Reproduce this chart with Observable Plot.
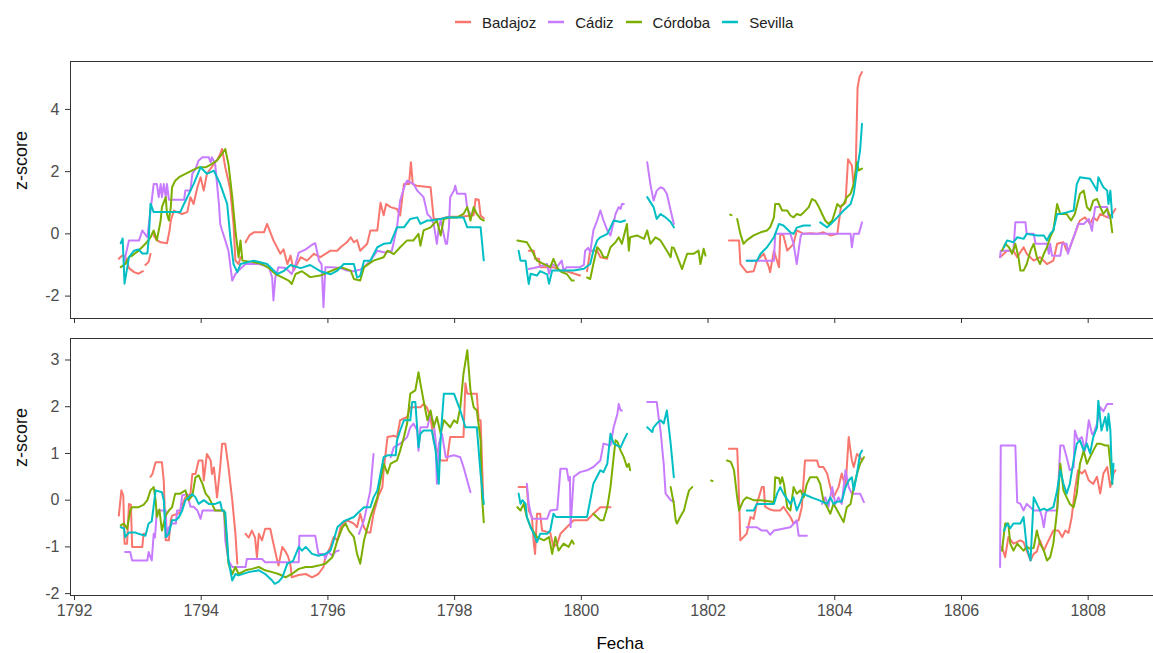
<!DOCTYPE html>
<html>
<head>
<meta charset="utf-8">
<script src="https://cdn.jsdelivr.net/npm/d3@7"></script>
<script src="https://cdn.jsdelivr.net/npm/@observablehq/plot@0.6"></script>
<style>
  html, body { margin: 0; padding: 0; background: #fff; overflow: hidden; }
  body { font-family: "Liberation Sans", Arial, sans-serif; }
  #root { position: relative; width: 1153px; height: 653px; }
  #legend { position: absolute; left: 455px; top: 13px; display: flex; align-items: center; height: 18px; font-size: 15px; color: #222; white-space: nowrap; }
  #legend .key { display: flex; align-items: center; margin-right: 12px; }
  #legend svg { display: block; margin-right: 11px; }
  .panel { position: absolute; left: 0; }
  #xtitle { position: absolute; left: 620px; top: 634px; transform: translateX(-50%); font-size: 17px; color: #000; }
</style>
</head>
<body>
<div id="root">
  <div id="legend"></div>
  <div id="top" class="panel" style="top:50px"></div>
  <div id="bottom" class="panel" style="top:330px"></div>
  <div id="xtitle">Fecha</div>
</div>
<script>
// Provinces and their line colours
const cities = ["Badajoz", "Cádiz", "Córdoba", "Sevilla"];
const palette = ["#F8766D", "#C77CFF", "#7CAE00", "#00BFC4"];

// Year ticks shared by both panels
const yearTicks = [1792, 1794, 1796, 1798, 1800, 1802, 1804, 1806, 1808];
const topTicks = [-2, 0, 2, 4];
const bottomTicks = [-2, -1, 0, 1, 2, 3];

// Upper panel series: [year, z-score]; null marks a gap in the record
const badajozTop = [
  [1792.70,-0.8],[1792.75,-0.7],[1792.80,-0.72],[1792.86,-1.1],[1792.94,-1.23],[1793.01,-1.28],[1793.08,-1.2],null,
  [1793.12,-1.0],[1793.17,-0.9],[1793.20,-0.65],null,
  [1793.25,-0.05],[1793.30,-0.2],[1793.36,-0.27],[1793.46,-0.3],[1793.50,0.1],[1793.52,0.43],[1793.57,0.75],[1793.62,0.7],[1793.70,0.64],[1793.78,0.7],[1793.83,1.18],[1793.88,0.96],[1793.94,1.5],[1793.99,1.82],[1794.04,1.39],[1794.09,1.93],[1794.15,2.1],[1794.20,2.25],[1794.26,2.4],[1794.30,2.57],[1794.33,2.73],[1794.38,2.14],[1794.43,1.7],[1794.46,1.39],[1794.51,0.32],[1794.54,-0.86],[1794.59,-0.97],[1794.62,-0.75],null,
  [1794.70,-0.27],[1794.76,-0.05],[1794.83,0.05],[1794.99,0.05],[1795.04,0.32],[1795.14,-0.21],[1795.25,-0.64],[1795.30,-0.5],[1795.36,-0.97],[1795.41,-0.7],[1795.46,-1.18],[1795.57,-0.75],[1795.67,-0.86],[1795.78,-0.64],[1795.88,-0.75],[1796.04,-0.54],[1796.15,-0.54],[1796.20,-0.43],[1796.30,-0.27],[1796.36,-0.11],[1796.41,-0.27],[1796.46,-0.2],[1796.51,-0.54],[1796.62,-0.32],[1796.67,0.11],[1796.78,0.11],[1796.83,1.0],[1796.88,0.6],[1796.92,0.96],[1796.99,0.86],[1797.09,0.8],[1797.14,0.59],[1797.20,1.6],[1797.28,1.6],[1797.31,2.3],[1797.34,1.6],[1797.40,1.55],[1797.62,1.5],[1797.67,0.48],[1797.78,0.48],[1797.90,0.55],[1798.10,0.55],[1798.30,0.6],[1798.33,1.12],[1798.38,1.1],[1798.41,0.59],[1798.46,0.5],null,
  [1799.17,-0.54],[1799.25,-0.54],[1799.27,-0.8],[1799.33,-0.8],[1799.35,-1.07],[1799.56,-1.07],[1799.67,-1.18],[1799.77,-1.2],[1799.98,-1.34],null,
  [1800.09,-1.2],[1800.14,-0.54],[1800.25,-0.54],[1800.30,-0.75],[1800.41,-0.8],null,
  [1802.33,-0.21],[1802.49,-0.21],[1802.51,-0.97],[1802.61,-1.23],[1802.72,-1.2],[1802.77,-0.86],[1802.88,-0.64],[1802.96,-1.07],[1802.98,-1.23],[1803.04,-0.54],[1803.12,-1.07],[1803.14,0],[1803.19,-0.05],[1803.25,-0.54],[1803.35,-0.32],[1803.40,0.11],[1803.51,0],[1803.61,0.02],[1803.72,0],[1803.82,0.05],[1803.93,-0.05],[1804.04,0],[1804.10,0.9],[1804.17,1.0],[1804.21,2.4],[1804.27,2.2],[1804.30,1.5],[1804.33,2.0],[1804.36,4.7],[1804.39,5.04],[1804.43,5.2],null,
  [1806.61,-0.75],[1806.72,-0.54],[1806.82,-0.54],[1806.88,-0.75],[1806.98,-0.43],[1807.03,-0.64],[1807.14,-0.86],[1807.24,-0.75],[1807.35,-0.97],[1807.45,-0.86],[1807.51,-0.32],[1807.61,-0.27],[1807.66,-0.54],[1807.71,-0.45],[1807.79,0],[1807.87,0.43],[1807.95,0.53],[1808.03,0.32],[1808.08,0.53],[1808.14,0.43],[1808.19,0.64],[1808.30,0.53],[1808.38,0.64],[1808.43,0.8]
];

const cadizTop = [
  [1792.78,-1.07],[1792.80,-0.75],[1792.86,-0.21],[1793.02,-0.21],[1793.07,0.11],[1793.15,-0.11],[1793.20,0.75],[1793.25,1.6],[1793.30,1.6],[1793.33,1.18],[1793.36,1.6],[1793.38,1.18],[1793.41,1.6],[1793.44,1.18],[1793.46,1.6],[1793.49,1.1],[1793.73,1.1],[1793.75,1.39],[1793.83,1.39],[1793.86,1.93],[1793.91,2.09],[1793.96,2.36],[1794.02,2.46],[1794.12,2.46],[1794.15,2.3],[1794.17,2.46],[1794.22,2.25],[1794.25,1.6],[1794.28,0.96],[1794.30,0.32],[1794.33,0.11],[1794.38,-0.21],[1794.43,-0.54],[1794.49,-1.5],[1794.54,-1.29],[1794.59,-1.18],[1794.70,-0.97],[1794.91,-0.97],[1795.07,-1.07],[1795.12,-1.4],[1795.14,-2.14],[1795.17,-1.4],[1795.22,-1.07],[1795.33,-1.1],[1795.43,-1.29],[1795.49,-0.97],[1795.54,-0.6],[1795.65,-0.5],[1795.75,-0.35],[1795.80,-0.3],[1795.86,-0.86],[1795.90,-0.97],[1795.93,-2.36],[1795.96,-1.07],[1796.07,-1.07],[1796.20,-1.1],[1796.30,-1.18],[1796.41,-1.2],[1796.51,-1.15],[1796.57,-1.07],[1796.67,-0.86],[1796.78,-0.54],[1796.90,-0.6],[1797.01,-0.54],[1797.09,0.21],[1797.14,1.07],[1797.22,1.6],[1797.25,1.71],[1797.35,1.6],[1797.41,1.39],[1797.51,1.18],[1797.57,0.64],[1797.62,0.53],[1797.67,0.32],[1797.72,-0.32],[1797.75,0.21],[1797.78,0.43],[1797.86,-0.32],[1797.88,-0.32],[1797.91,0.21],[1797.93,1.18],[1797.99,1.39],[1798.01,1.55],[1798.04,1.29],[1798.17,1.29],[1798.20,0.8],[1798.25,0.64],null,
  [1799.17,-1.13],[1799.25,-1.1],[1799.35,-1.05],[1799.46,-0.97],[1799.49,-1.28],[1799.54,-0.97],[1799.62,-1.05],[1799.69,-0.86],[1799.72,-1.18],[1799.77,-1.07],[1799.98,-1.07],[1800.04,-1.0],[1800.06,-0.54],[1800.11,-0.45],[1800.14,-0.6],[1800.19,0.11],[1800.25,0.43],[1800.30,0.75],[1800.35,0.43],[1800.41,0.11],[1800.46,-0.05],[1800.54,0.64],[1800.59,0.86],[1800.62,0.8],[1800.64,0.96],[1800.67,0.96],null,
  [1801.04,2.3],[1801.09,1.6],[1801.14,1.07],[1801.19,1.39],[1801.25,1.5],[1801.30,1.45],[1801.35,1.29],[1801.41,0.75],[1801.46,0.32],null,
  [1802.61,-0.86],[1803.04,-0.86],[1803.06,0],[1803.30,0],[1803.35,-0.32],[1803.40,-0.97],[1803.46,-0.1],[1803.48,0],[1804.25,0],[1804.27,-0.43],[1804.30,0],[1804.38,0],[1804.43,0.37],null,
  [1806.61,-0.75],[1806.62,-0.54],[1806.82,-0.54],[1806.85,0.37],[1807.01,0.37],[1807.03,0],[1807.14,0],[1807.17,-0.32],[1807.35,-0.32],[1807.38,-0.64],[1807.40,-0.32],[1807.43,-0.7],[1807.56,-0.7],[1807.59,-0.32],[1807.66,-0.32],[1807.68,-0.64],[1807.73,-0.32],[1807.79,0],[1807.84,0.32],[1807.93,0.32],[1808.01,0.48],[1808.06,0.1],[1808.08,0.43],[1808.11,0.86],[1808.30,0.86],[1808.32,0.53],[1808.35,0.5]
];

const cordobaTop = [
  [1792.73,-1.07],[1792.80,-0.97],[1792.86,-0.75],[1792.91,-0.7],[1793.01,-0.54],[1793.12,-0.32],[1793.20,-0.11],[1793.25,0.11],[1793.30,-0.21],[1793.36,0.43],[1793.38,0.86],[1793.44,1.18],[1793.46,0.64],[1793.49,0.43],[1793.52,0.86],[1793.54,1.5],[1793.59,1.71],[1793.65,1.82],[1793.75,1.93],[1793.86,2.04],[1793.96,2.14],[1794.07,2.14],[1794.17,2.25],[1794.25,2.36],[1794.33,2.57],[1794.38,2.73],[1794.43,2.25],[1794.49,1.18],[1794.54,0.11],[1794.59,-0.75],[1794.62,-0.21],[1794.65,-0.86],[1794.80,-0.9],[1794.96,-0.97],[1795.07,-1.1],[1795.17,-1.29],[1795.28,-1.4],[1795.38,-1.5],[1795.43,-1.61],[1795.49,-1.29],[1795.59,-1.2],[1795.72,-1.39],[1795.88,-1.34],[1796.04,-1.2],[1796.20,-1.07],[1796.36,-1.18],[1796.41,-1.45],[1796.51,-1.5],[1796.57,-1.07],[1796.72,-0.86],[1796.88,-0.75],[1796.94,-0.54],[1797.04,-0.65],[1797.14,-0.43],[1797.25,-0.21],[1797.35,-0.21],[1797.43,0],[1797.46,-0.38],[1797.51,0.11],[1797.62,0.21],[1797.72,0.43],[1797.78,-0.05],[1797.83,0.48],[1797.93,0.53],[1798.04,0.53],[1798.14,0.64],[1798.20,0.86],[1798.25,0.43],[1798.30,0.86],[1798.35,0.64],[1798.41,0.48],[1798.46,0.43],null,
  [1798.99,-0.21],[1799.14,-0.27],[1799.22,-0.54],[1799.30,-0.86],[1799.41,-0.97],[1799.51,-1.07],[1799.56,-0.8],[1799.62,-1.1],[1799.69,-1.23],[1799.77,-1.29],[1799.85,-1.5],[1799.88,-1.5],null,
  [1800.09,-1.4],[1800.14,-1.45],[1800.19,-0.97],[1800.25,-0.43],[1800.30,-0.54],[1800.35,-0.75],[1800.41,-0.75],[1800.46,-0.43],[1800.54,-0.27],[1800.59,-0.11],[1800.64,-0.32],[1800.72,0.32],[1800.75,-0.54],[1800.77,-0.11],[1800.88,-0.05],[1800.99,-0.16],[1801.04,0.11],[1801.09,-0.32],[1801.17,-0.11],[1801.25,-0.21],[1801.35,-0.54],[1801.41,-0.75],[1801.43,-0.43],null,
  [1801.46,-0.45],[1801.56,-0.97],[1801.59,-1.13],[1801.67,-0.64],[1801.77,-0.64],[1801.85,-0.54],[1801.88,-0.97],[1801.93,-0.48],[1801.96,-0.7],null,
  [1802.35,0.62],[1802.37,0.6],null,
  [1802.46,0.48],[1802.51,0],[1802.56,-0.32],[1802.61,-0.21],[1802.72,-0.05],[1802.83,0.05],[1802.93,0.11],[1802.98,0.21],[1803.04,0.53],[1803.06,0.96],[1803.12,0.96],[1803.17,0.75],[1803.25,0.75],[1803.30,0.59],[1803.35,0.53],[1803.40,0.64],[1803.46,0.6],[1803.51,0.69],[1803.59,0.86],[1803.64,1.12],[1803.69,1.07],[1803.75,0.86],[1803.80,0.64],[1803.85,0.43],[1803.90,0.32],[1803.96,0.43],[1804.01,0.75],[1804.04,0.96],[1804.09,0.86],[1804.14,0.96],[1804.19,1.18],[1804.25,1.29],[1804.30,1.6],[1804.35,2.3],[1804.38,2.04],[1804.43,2.1],null,
  [1806.64,-0.54],[1806.69,-0.32],[1806.75,-0.43],[1806.80,-0.64],[1806.85,-0.32],[1806.90,-0.75],[1806.93,-1.18],[1806.98,-1.18],[1807.03,-0.97],[1807.09,-0.54],[1807.14,-0.32],[1807.19,-0.75],[1807.24,-0.97],[1807.30,-0.64],[1807.35,-0.43],[1807.40,-0.11],[1807.45,0.11],[1807.51,0.96],[1807.56,0.64],[1807.66,0.64],[1807.73,0.43],[1807.79,0.64],[1807.87,1.29],[1807.93,1.39],[1807.98,0.86],[1808.03,0.75],[1808.08,1.07],[1808.14,1.12],[1808.19,0.86],[1808.24,0.64],[1808.30,0.8],[1808.35,0.53],[1808.38,0.05]
];

const sevillaTop = [
  [1792.73,-0.3],[1792.76,-0.15],[1792.79,-1.6],[1792.86,-0.75],[1792.94,-0.54],[1793.01,-0.5],[1793.07,-0.63],[1793.15,-0.63],[1793.17,-0.2],[1793.20,0.97],[1793.25,0.70],[1793.67,0.70],[1793.73,0.97],[1793.88,1.6],[1793.99,2.14],[1794.09,1.93],[1794.20,2.03],[1794.25,1.82],[1794.30,1.6],[1794.41,0.96],[1794.46,-0.11],[1794.51,-0.97],[1794.57,-1.23],[1794.62,-0.97],[1794.83,-0.86],[1795.04,-0.97],[1795.20,-1.29],[1795.30,-1.2],[1795.41,-1.0],[1795.57,-1.1],[1795.72,-1.0],[1795.88,-1.2],[1796.04,-1.3],[1796.15,-1.18],[1796.25,-0.97],[1796.41,-0.97],[1796.46,-1.4],[1796.51,-1.35],[1796.57,-0.86],[1796.67,-0.86],[1796.78,-0.43],[1796.88,-0.32],[1796.99,-0.29],[1797.09,0.21],[1797.20,0.21],[1797.30,0.48],[1797.41,0.53],[1797.46,0.32],[1797.57,0.43],[1797.62,0.43],[1797.78,0.48],[1797.88,0.53],[1798.14,0.53],[1798.20,0.21],[1798.41,0.21],[1798.46,-0.85],null,
  [1799.01,-0.54],[1799.04,-0.86],[1799.12,-0.86],[1799.14,-1.18],[1799.17,-1.61],[1799.20,-1.28],[1799.30,-1.34],[1799.35,-1.2],[1799.46,-1.3],[1799.49,-1.6],[1799.54,-1.18],[1799.67,-1.18],[1799.88,-1.18],[1800.04,-1.12],[1800.14,-0.97],[1800.19,-0.54],[1800.25,-0.21],[1800.30,-0.11],[1800.41,0],[1800.46,0.21],[1800.51,0.43],[1800.62,0.38],[1800.69,0.43],null,
  [1801.04,1.18],[1801.14,0.86],[1801.19,0.48],[1801.25,0.64],[1801.33,0.53],[1801.41,0.38],[1801.46,0.21],null,
  [1802.61,-0.86],[1802.77,-0.86],[1802.83,-0.64],[1802.93,-0.43],[1803.04,-0.11],[1803.12,0.32],[1803.19,0.27],[1803.30,0.05],[1803.35,0],[1803.40,0.2],[1803.51,0.27],[1803.61,0.27],null,
  [1803.77,0.37],[1803.88,0.21],[1803.93,0.3],[1804.04,0.53],[1804.14,0.75],[1804.25,0.96],[1804.30,1.29],[1804.35,2.04],[1804.40,2.68],[1804.43,3.54],null,
  [1806.67,-0.43],[1806.72,-0.21],[1806.82,-0.27],[1806.88,-0.11],[1806.98,-0.16],[1807.03,0],[1807.19,-0.05],[1807.30,-0.05],[1807.35,-0.21],[1807.40,0],[1807.45,0.11],[1807.51,0.64],[1807.56,0.64],[1807.66,0.69],[1807.77,0.75],[1807.82,1.6],[1807.87,1.82],[1808.03,1.77],[1808.08,1.6],[1808.14,1.39],[1808.16,1.82],[1808.24,1.5],[1808.30,1.39],[1808.32,0.96],[1808.35,1.39],[1808.38,0.53]
];

// Lower panel series: [year, z-score]; null marks a gap in the record
const badajozBottom = [
  [1792.70,-0.33],[1792.74,0.21],[1792.77,0.1],[1792.79,-0.93],[1792.83,-0.93],[1792.86,-0.08],[1792.89,-0.1],[1792.91,-1.0],[1793.07,-1.0],[1793.09,-0.72],[1793.12,-0.72],null,
  [1793.20,0.5],[1793.23,0.56],[1793.28,0.81],[1793.38,0.81],[1793.41,0.4],[1793.44,-0.86],[1793.49,-0.86],[1793.52,-0.43],[1793.54,-0.33],[1793.65,-0.28],[1793.75,0.06],[1793.83,0.13],[1793.86,0.56],[1793.91,0.56],[1793.96,0.85],[1794.02,0.85],[1794.04,0.42],[1794.09,0.99],[1794.15,0.85],[1794.17,0.56],[1794.20,0.7],[1794.25,0.06],[1794.30,0.71],[1794.33,1.21],[1794.38,1.21],[1794.43,0.71],[1794.49,0],[1794.54,-0.72],[1794.57,-1.36],null,
  [1794.70,-0.72],[1794.75,-0.8],[1794.80,-0.65],[1794.85,-0.8],[1794.88,-1.22],[1794.91,-0.72],[1794.96,-0.86],[1795.01,-0.61],[1795.09,-0.61],[1795.14,-0.93],[1795.20,-1.29],[1795.22,-1.4],[1795.28,-1.0],[1795.33,-1.1],[1795.37,-1.2],[1795.41,-1.4],[1795.43,-1.65],[1795.54,-1.6],[1795.65,-1.58],[1795.75,-1.65],[1795.85,-1.58],[1795.93,-1.43],[1795.96,-1.22],[1796.04,-1.0],[1796.09,-0.79],[1796.15,-0.86],[1796.20,-0.58],[1796.30,-0.43],[1796.41,-0.5],[1796.46,-0.58],[1796.51,-0.29],[1796.57,-0.58],[1796.62,-0.69],[1796.67,-0.69],[1796.72,-0.29],[1796.80,0.1],[1796.86,0.28],[1796.88,0.64],[1796.94,1.35],[1797.04,1.38],[1797.09,1.35],[1797.14,1.71],[1797.25,1.78],[1797.30,1.99],[1797.46,1.99],[1797.51,2.06],[1797.56,1.99],[1797.62,1.78],[1797.67,1.28],[1797.78,0.85],[1797.88,0.85],[1797.93,1.35],[1798.14,1.35],[1798.17,2.5],[1798.20,2.28],[1798.35,2.28],[1798.38,1.71],[1798.41,1.71],[1798.45,0.1],null,
  [1799.01,0.28],[1799.14,0.28],[1799.17,-0.22],[1799.22,-0.36],[1799.25,-0.93],[1799.27,-1.15],[1799.30,-0.29],[1799.35,-0.29],[1799.38,-0.65],[1799.51,-0.7],[1799.56,-1.0],[1799.62,-0.93],[1799.67,-0.72],[1799.77,-0.58],[1799.88,-0.43],[1800.09,-0.43],[1800.19,-0.29],[1800.30,-0.15],[1800.46,-0.15],null,
  [1802.33,1.1],[1802.46,1.1],[1802.48,0.42],[1802.51,-0.86],[1802.61,-0.72],[1802.67,-0.36],[1802.72,-0.4],[1802.77,-0.08],[1802.85,0.28],[1802.88,0.28],[1802.90,-0.14],[1802.98,-0.2],[1803.04,-0.22],[1803.14,-0.22],[1803.19,-0.14],[1803.30,-0.36],[1803.35,-0.5],[1803.43,-0.43],[1803.48,-0.15],[1803.53,0.85],[1803.72,0.85],[1803.75,0.71],[1803.82,0.71],[1803.88,0.57],[1803.93,0.28],[1803.98,0.06],[1804.06,0.28],[1804.11,0.57],[1804.17,0.28],[1804.22,1.35],[1804.27,0.85],[1804.30,0.71],[1804.35,0.99],[1804.40,0.92],[1804.43,0.85],null,
  [1806.64,-1.0],[1806.69,-1.22],[1806.74,-0.79],[1806.82,-0.93],[1806.93,-0.86],[1806.98,-0.9],[1807.03,-1.08],[1807.09,-1.29],[1807.14,-1.15],[1807.19,-1.1],[1807.24,-0.86],[1807.30,-1.08],[1807.35,-0.93],[1807.40,-0.79],[1807.45,-0.65],[1807.53,-0.65],[1807.59,-0.79],[1807.64,-0.65],[1807.69,-0.7],[1807.74,-0.36],[1807.79,0.21],[1807.84,0.64],[1807.90,0.57],[1807.95,0.64],[1808.01,0.42],[1808.08,0.35],[1808.14,0.5],[1808.19,0.14],[1808.24,0.57],[1808.30,0.71],[1808.35,0.28],[1808.40,0.57],[1808.43,0.64]
];

const cadizBottom = [
  [1792.80,-1.11],[1792.88,-1.11],[1792.91,-1.29],[1793.15,-1.29],[1793.17,-1.11],[1793.22,-1.29],[1793.25,-0.72],[1793.27,-0.8],[1793.30,-0.22],[1793.44,-0.22],[1793.46,-0.79],[1793.49,-0.58],[1793.54,-0.5],[1793.60,-0.5],[1793.62,-0.22],[1793.67,-0.22],[1793.70,0.1],[1793.78,0.13],[1793.83,-0.14],[1793.88,-0.14],[1793.94,-0.22],[1793.99,-0.4],[1794.02,-0.22],[1794.36,-0.22],[1794.38,-0.86],[1794.43,-1.29],[1794.49,-1.43],[1794.70,-1.43],[1794.72,-1.26],[1794.96,-1.26],[1795.01,-1.33],[1795.54,-1.33],[1795.55,-0.76],[1795.80,-0.76],[1795.85,-1.15],[1795.93,-1.15],[1795.96,-1.25],[1796.00,-1.1],[1796.07,-1.19],[1796.12,-1.1],[1796.17,-1.08],null,
  [1796.49,-0.72],[1796.57,-0.43],[1796.67,0.21],[1796.72,0.99],null,
  [1796.99,0.92],[1797.04,1.13],[1797.14,1.21],[1797.20,1.28],[1797.25,1.35],[1797.30,1.56],[1797.35,1.64],[1797.41,1.49],[1797.43,1.06],[1797.46,1.56],[1797.57,1.56],[1797.62,1.85],[1797.67,1.64],[1797.70,1.28],[1797.72,0.35],[1797.75,1.2],[1797.80,1.42],[1797.86,0.92],[1797.99,0.96],[1798.09,0.92],[1798.14,0.71],[1798.25,0.17],null,
  [1799.14,0.35],[1799.17,-0.08],[1799.22,-0.4],[1799.46,-0.4],[1799.51,-0.22],[1799.62,-0.2],[1799.67,0.67],[1799.77,0.67],[1799.80,0.42],[1799.82,0.5],[1799.83,-0.58],[1799.88,0.5],[1799.98,0.6],[1800.09,0.64],[1800.19,0.71],[1800.30,0.85],[1800.35,1.21],[1800.46,1.17],[1800.51,1.56],[1800.57,1.85],[1800.59,2.06],[1800.62,1.92],[1800.64,1.92],null,
  [1801.04,2.1],[1801.19,2.1],[1801.22,1.78],[1801.25,1.49],[1801.30,0.78],[1801.33,0.14],[1801.41,0],[1801.46,-0.03],null,
  [1802.61,-0.58],[1802.77,-0.58],[1802.85,-0.65],[1802.93,-0.65],[1802.98,-0.74],[1803.04,-0.65],[1803.30,-0.58],[1803.40,-0.43],[1803.43,-0.76],[1803.56,-0.76],null,
  [1803.80,-0.08],[1803.85,0.06],[1803.90,-0.14],[1803.96,0.28],[1804.01,-0.08],[1804.06,0.06],[1804.11,-0.08],[1804.17,0.64],[1804.22,0.28],[1804.27,0.14],[1804.40,0.14],[1804.46,-0.04],null,
  [1806.61,-1.43],[1806.62,1.17],[1806.85,1.17],[1806.88,-0.04],[1806.93,-0.08],[1806.98,-0.22],[1807.03,-0.08],[1807.14,-0.22],[1807.24,-0.22],[1807.27,-0.36],[1807.30,-0.58],[1807.33,-0.29],[1807.35,-0.22],[1807.51,-0.22],[1807.56,1.17],[1807.61,1.17],[1807.66,0.92],[1807.71,0.64],[1807.77,0.7],[1807.79,1.49],[1807.84,1.28],[1807.90,1.35],[1807.95,1.06],[1808.01,1.71],[1808.06,1.42],[1808.08,1.4],[1808.14,1.64],[1808.19,1.99],[1808.24,1.9],[1808.30,2.06],[1808.38,2.06]
];

const cordobaBottom = [
  [1792.73,-0.54],[1792.78,-0.5],[1792.83,-0.61],[1792.88,-0.22],[1792.91,-0.15],[1793.01,-0.15],[1793.09,-0.1],[1793.15,0],[1793.20,0.21],[1793.25,0.28],[1793.28,0],[1793.30,-0.36],[1793.34,-0.2],[1793.38,-0.65],[1793.44,-0.33],[1793.49,-0.22],[1793.54,-0.15],[1793.59,0.14],[1793.67,0.14],[1793.75,0.21],[1793.80,0],[1793.86,0.1],[1793.91,0.49],[1793.96,0.53],[1794.02,0.35],[1794.07,0.14],[1794.12,0.06],[1794.17,-0.08],[1794.22,-0.22],[1794.36,-0.22],[1794.40,-0.8],[1794.43,-1.36],[1794.49,-1.58],[1794.54,-1.43],[1794.59,-1.58],[1794.70,-1.5],[1794.80,-1.47],[1794.91,-1.43],[1795.01,-1.5],[1795.12,-1.54],[1795.22,-1.58],[1795.33,-1.65],[1795.43,-1.58],[1795.54,-1.47],[1795.65,-1.43],[1795.75,-1.43],[1795.85,-1.4],[1795.96,-1.36],[1796.07,-1.22],[1796.15,-0.86],[1796.23,-0.58],[1796.28,-0.5],[1796.33,-0.65],[1796.41,-0.79],[1796.46,-1.15],[1796.51,-1.36],[1796.57,-0.86],[1796.67,-0.36],[1796.78,0.06],[1796.83,0.42],[1796.88,0.78],[1796.94,0.57],[1796.99,0.78],[1797.09,0.85],[1797.14,1.06],[1797.20,1.35],[1797.25,1.64],[1797.30,2.28],[1797.38,2.35],[1797.43,2.74],[1797.46,2.5],[1797.51,2.13],[1797.57,1.71],[1797.62,1.92],[1797.67,1.56],[1797.72,1.78],[1797.78,1.42],[1797.83,1.71],[1797.93,1.56],[1797.99,1.71],[1798.04,1.65],[1798.09,1.99],[1798.14,2.71],[1798.20,3.21],[1798.25,2.35],[1798.30,1.99],[1798.35,1.92],[1798.41,1.28],[1798.43,0.14],[1798.46,-0.47],null,
  [1798.99,-0.15],[1799.04,-0.22],[1799.09,-0.08],[1799.14,-0.36],[1799.20,-0.58],[1799.30,-0.79],[1799.41,-0.86],[1799.49,-0.79],[1799.54,-1.15],[1799.59,-0.79],[1799.64,-1.08],[1799.72,-0.93],[1799.80,-1.0],[1799.85,-0.86],[1799.88,-0.93],null,
  [1800.19,-0.29],[1800.30,-0.43],[1800.35,-0.43],[1800.41,-0.15],[1800.46,0.28],[1800.51,0.92],[1800.54,1.28],[1800.57,1.25],[1800.62,1.06],[1800.67,0.92],[1800.72,0.71],[1800.75,0.78],[1800.77,0.64],null,
  [1801.41,0.28],[1801.46,-0.08],[1801.49,-0.43],[1801.51,-0.5],[1801.56,-0.36],[1801.62,-0.22],[1801.67,0.06],[1801.70,0.21],[1801.75,0.28],null,
  [1802.05,0.42],[1802.07,0.41],null,
  [1802.30,0.85],[1802.36,0.82],[1802.41,0.64],[1802.46,0.06],[1802.49,-0.22],[1802.56,0],[1802.61,0.06],[1802.72,0],[1802.83,0],[1803.04,-0.04],[1803.06,0.49],[1803.12,0.47],[1803.14,0.35],[1803.17,0.49],[1803.20,0.33],[1803.25,-0.15],[1803.30,-0.22],[1803.35,0.28],[1803.40,0.14],[1803.46,0.21],[1803.51,0.06],[1803.56,0.35],[1803.61,0.49],[1803.72,0.49],[1803.77,0.35],[1803.82,0],[1803.88,-0.15],[1803.93,-0.29],[1803.98,-0.08],[1804.04,-0.22],[1804.14,-0.47],[1804.19,-0.15],[1804.25,-0.08],[1804.30,0.28],[1804.35,0.56],[1804.40,0.78],[1804.46,0.92],null,
  [1806.64,-1.08],[1806.69,-0.5],[1806.74,-0.5],[1806.77,-0.93],[1806.82,-1.08],[1806.88,-0.93],[1806.98,-1.08],[1807.03,-1.0],[1807.09,-1.04],[1807.14,-1.02],[1807.19,-0.65],[1807.24,-0.93],[1807.30,-1.08],[1807.35,-1.29],[1807.40,-1.22],[1807.45,-0.93],[1807.51,-0.22],[1807.56,0.78],[1807.61,0.21],[1807.66,0.06],[1807.71,-0.08],[1807.77,-0.15],[1807.82,0.14],[1807.87,0.78],[1807.93,1.06],[1807.98,0.78],[1808.03,0.92],[1808.08,1.06],[1808.14,1.21],[1808.19,1.21],[1808.27,1.17],[1808.32,1.17],[1808.35,0.78],[1808.38,0.35]
];

const sevillaBottom = [
  [1792.73,-0.58],[1792.78,-0.6],[1792.80,-0.79],[1792.86,-0.69],[1792.96,-0.69],[1793.01,-0.72],[1793.12,-0.76],[1793.17,-0.5],[1793.22,-0.45],[1793.28,0.21],[1793.38,0.17],[1793.41,0],[1793.44,-0.79],[1793.49,-0.72],[1793.54,-0.43],[1793.60,-0.43],[1793.65,-0.36],[1793.70,-0.22],[1793.75,0],[1793.86,0.13],[1793.91,0.06],[1793.96,-0.08],[1794.04,0],[1794.12,-0.08],[1794.22,-0.08],[1794.30,-0.04],[1794.33,-0.22],[1794.38,-0.26],[1794.41,-0.86],[1794.43,-1.29],[1794.49,-1.72],[1794.54,-1.58],[1794.59,-1.61],[1794.75,-1.54],[1794.91,-1.5],[1795.01,-1.58],[1795.12,-1.72],[1795.16,-1.79],[1795.22,-1.75],[1795.28,-1.65],[1795.36,-1.36],[1795.45,-1.3],[1795.54,-1.0],[1795.59,-1.08],[1795.65,-1.0],[1795.75,-1.15],[1795.85,-1.19],[1795.96,-1.15],[1796.04,-1.08],[1796.09,-0.86],[1796.15,-0.58],[1796.25,-0.45],[1796.41,-0.36],[1796.46,-0.29],[1796.57,-0.15],[1796.67,-0.15],[1796.72,0.06],[1796.78,0.21],[1796.83,0.56],[1796.88,0.92],[1796.94,0.96],[1797.07,0.96],[1797.09,1.28],[1797.14,1.49],[1797.20,1.71],[1797.30,1.71],[1797.33,2.1],[1797.38,2.1],[1797.43,1.13],[1797.46,1.42],[1797.51,1.49],[1797.64,1.49],[1797.70,1.06],[1797.75,0.35],[1797.78,1.35],[1797.83,2.28],[1797.99,2.28],[1798.04,2.1],[1798.09,1.92],[1798.17,1.56],[1798.35,1.56],[1798.41,0.56],[1798.46,-0.08],null,
  [1799.01,0.14],[1799.04,-0.08],[1799.07,0],[1799.12,-0.08],[1799.14,-0.36],[1799.20,-0.58],[1799.25,-0.72],[1799.30,-0.9],[1799.35,-0.72],[1799.46,-0.72],[1799.51,-0.65],[1799.56,-0.29],[1799.60,-0.36],[1799.88,-0.36],[1800.09,-0.36],[1800.19,0.35],[1800.30,0.64],[1800.35,0.6],[1800.41,0.78],[1800.46,1.42],[1800.51,1.21],[1800.62,1.13],[1800.67,1.28],[1800.72,1.42],null,
  [1801.04,1.56],[1801.12,1.46],[1801.14,1.56],[1801.19,1.64],[1801.25,1.71],[1801.30,1.64],[1801.35,1.92],[1801.41,1.21],[1801.46,0.49],null,
  [1802.61,-0.22],[1802.72,-0.22],[1802.77,-0.08],[1803.04,-0.08],[1803.09,0.14],[1803.14,0.28],[1803.19,0.14],[1803.30,-0.08],[1803.35,0.06],[1803.40,-0.22],[1803.46,-0.03],[1803.51,0.14],[1803.56,0.1],[1803.65,0.05],[1803.75,0],[1803.80,-0.03],[1803.88,-0.08],[1803.93,0.06],[1803.98,-0.08],[1804.04,-0.03],[1804.11,-0.03],[1804.17,0.28],[1804.22,0.42],[1804.27,0.49],[1804.30,0.21],[1804.35,0.56],[1804.40,0.99],[1804.43,1.06],null,
  [1806.67,-0.65],[1806.72,-0.5],[1806.77,-0.6],[1806.82,-0.5],[1806.93,-0.5],[1806.98,-0.36],[1807.03,-1.0],[1807.09,-1.29],[1807.14,0.06],[1807.19,-0.08],[1807.24,-0.22],[1807.30,-0.18],[1807.35,-0.22],[1807.45,-0.15],[1807.51,0.21],[1807.56,0.64],[1807.61,0.35],[1807.66,0.14],[1807.71,0.35],[1807.77,0.85],[1807.82,1.21],[1807.87,1.28],[1807.93,1.06],[1807.98,1.21],[1808.03,1.0],[1808.08,1.35],[1808.14,1.56],[1808.16,2.13],[1808.21,1.49],[1808.27,1.78],[1808.30,1.49],[1808.32,1.85],[1808.35,1.5],[1808.38,0.35],[1808.40,0.78]
];

// Long-format rows for Plot; a null entry becomes an undefined point so the line breaks there
function toRows(city, points) {
  return points.map(p => p ? {city, fecha: p[0], z: p[1]} : {city, fecha: NaN, z: NaN});
}

const xDomain = [1791.937, 1809.031];
const font = '"Liberation Sans", Arial, sans-serif';

function panel({series, yDomain, yTicks, showYears, height, marginTop, marginBottom}) {
  const rows = series.flatMap(([city, pts]) => toRows(city, pts));
  return Plot.plot({
    width: 1153,
    height,
    marginLeft: 70,
    marginRight: 0,
    marginTop,
    marginBottom,
    x: {domain: xDomain},
    y: {domain: yDomain},
    color: {domain: cities, range: palette},
    style: {fontFamily: font, background: "#fff", overflow: "visible"},
    marks: [
      Plot.frame({anchor: "top", stroke: "#333", strokeWidth: 1}),
      Plot.frame({anchor: "left", stroke: "#333", strokeWidth: 1}),
      Plot.frame({anchor: "bottom", stroke: "#333", strokeWidth: 1}),
      Plot.axisY({ticks: yTicks, tickSize: 5, tickPadding: 6, fontSize: 16, tickFormat: d => String(d), label: null, stroke: "#333", fill: "#4d4d4d"}),
      Plot.axisX({ticks: yearTicks, tickSize: 5, tickPadding: 4, fontSize: 16, tickFormat: showYears ? (d => String(d)) : (() => ""), label: null, stroke: "#333", fill: "#4d4d4d"}),
      Plot.line(rows, {x: "fecha", y: "z", z: "city", stroke: "city", strokeWidth: 2}),
      Plot.text(["z-score"], {text: d => d, frameAnchor: "left", dx: -49, rotate: -90, fontSize: 18, fill: "#111"})
    ]
  });
}

document.getElementById("top").append(panel({
  series: [["Badajoz", badajozTop], ["Cádiz", cadizTop], ["Córdoba", cordobaTop], ["Sevilla", sevillaTop]],
  yDomain: [-2.72, 5.54],
  yTicks: topTicks,
  showYears: false,
  height: 278,
  marginTop: 11,
  marginBottom: 10
}));

document.getElementById("bottom").append(panel({
  series: [["Badajoz", badajozBottom], ["Cádiz", cadizBottom], ["Córdoba", cordobaBottom], ["Sevilla", sevillaBottom]],
  yDomain: [-2.04, 3.46],
  yTicks: bottomTicks,
  showYears: true,
  height: 300,
  marginTop: 8,
  marginBottom: 35
}));

// Line-key legend above the panels
const legend = document.getElementById("legend");
cities.forEach((name, i) => {
  const key = document.createElement("span");
  key.className = "key";
  key.innerHTML = `<svg width="16" height="6"><line x1="0" y1="3" x2="16" y2="3" stroke="${palette[i]}" stroke-width="2.5"/></svg><span>${name}</span>`;
  legend.append(key);
});
</script>
</body>
</html>
